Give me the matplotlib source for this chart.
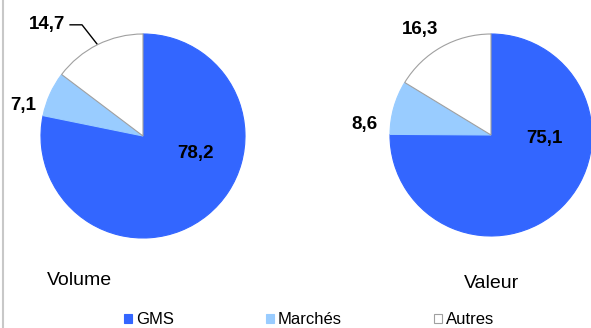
import numpy as np
import matplotlib
matplotlib.use("Agg")
import matplotlib.pyplot as plt
from matplotlib.lines import Line2D

plt.rcParams['font.family'] = ['Liberation Sans', 'DejaVu Sans']

# part de marche (%) par circuit
categories = ["GMS", "Marchés", "Autres"]
volume = [78.2, 7.1, 14.7]
valeur = [75.1, 8.6, 16.3]
titles = ["Volume", "Valeur"]

colors = ["#3366FF", "#99CCFF", "#FFFFFF"]
edges = ["#3366FF", "#99CCFF", "#A0A0A0"]

W, H = 591, 328
fig = plt.figure(figsize=(W / 100, H / 100), dpi=100)


def add_pie(cx, cy, r, values):
    ax = fig.add_axes([(cx - r) / W, (H - cy - r) / H, 2 * r / W, 2 * r / H])
    wedges, _ = ax.pie(values, colors=colors, startangle=90, counterclock=False,
                       wedgeprops=dict(linewidth=0.8))
    for w, ec in zip(wedges, edges):
        w.set_edgecolor(ec)
    wedges[2].set_zorder(3)
    ax.set_xlim(-1, 1)
    ax.set_ylim(-1, 1)
    for w in wedges:
        w.set_clip_on(False)
    return ax, wedges


def fmt(v):
    return f"{v:.1f}".replace(".", ",")


lab = dict(fontsize=13.5, fontweight="bold", ha="center", va="center")

# Volume
ax1, w1 = add_pie(143, 136, 102, volume)
ax1.text(0.51, -0.17, fmt(volume[0]), **lab)
ax1.text(-1.17, 0.30, fmt(volume[1]), **lab)
ax1.text(-0.94, 1.09, fmt(volume[2]), **lab)
mid = np.deg2rad((w1[2].theta1 + w1[2].theta2) / 2)
ax1.plot([-0.715, -0.598, np.cos(mid)], [1.09, 1.09, np.sin(mid)],
         color="black", lw=1.0, clip_on=False)
ax1.text(-0.62, -1.42, titles[0], fontsize=14, ha="center", va="center")

# Valeur
ax2, w2 = add_pie(491, 135, 101, valeur)
ax2.text(0.53, -0.03, fmt(valeur[0]), **lab)
ax2.text(-1.25, 0.10, fmt(valeur[1]), **lab)
ax2.text(-0.70, 1.04, fmt(valeur[2]), **lab)
ax2.text(0.01, -1.47, titles[1], fontsize=14, ha="center", va="center")

fig.legend(w1, categories, loc="center", bbox_to_anchor=(309 / W, 1 - 320 / H),
           ncol=3, frameon=False, fontsize=12, handlelength=0.5, handleheight=0.5,
           handletextpad=0.25, columnspacing=5.5, borderpad=0)

# bordure gauche
fig.add_artist(Line2D([2.5 / W, 2.5 / W], [0, 1], color="#C8C8C8", lw=1.5))

fig.savefig("out.png", dpi=100)
